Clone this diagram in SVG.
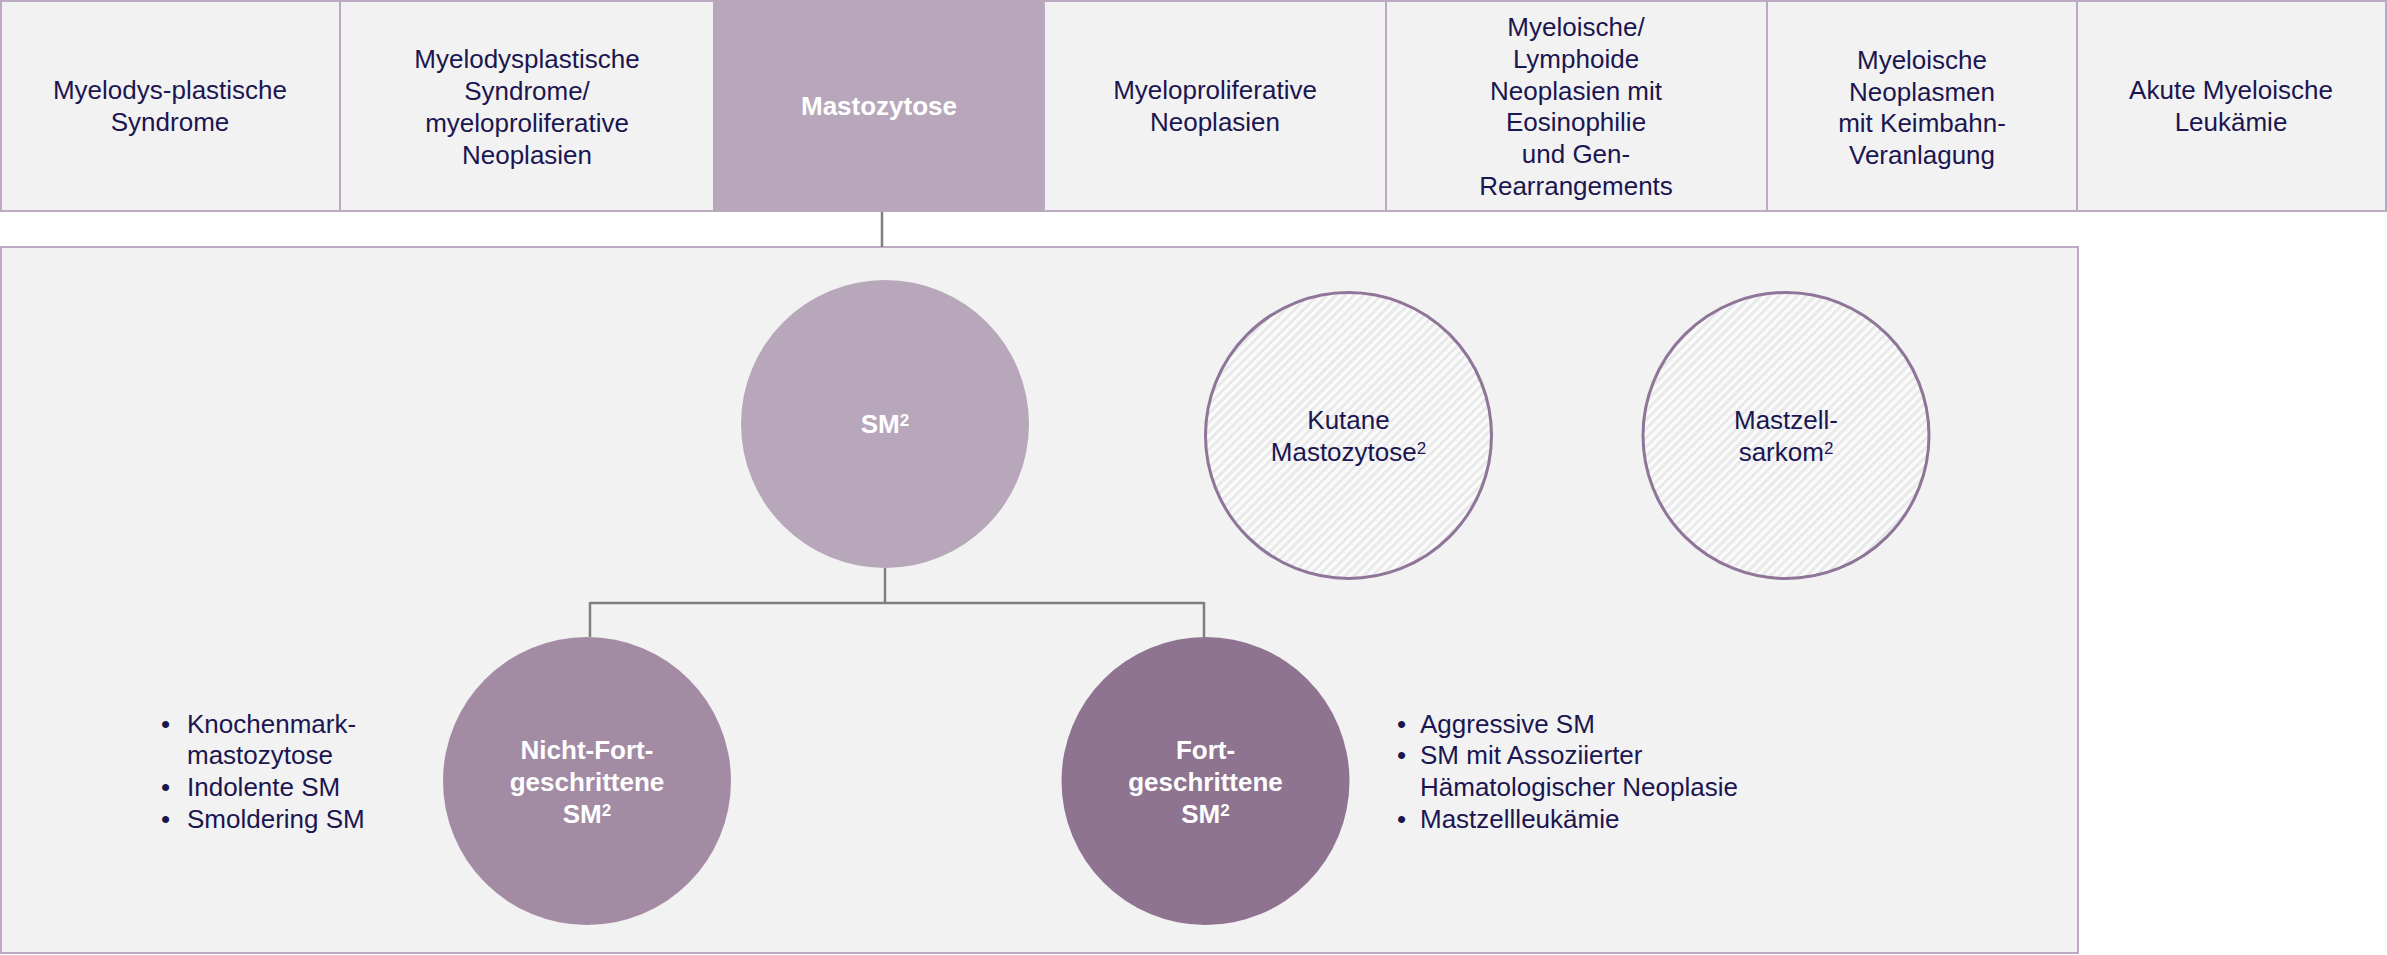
<svg xmlns="http://www.w3.org/2000/svg" width="2387" height="955" viewBox="0 0 2387 955">
<defs>
<style>
.box{fill:#f2f2f2;stroke:#bda9c1;stroke-width:2}
.hl{fill:#b8a7bb;stroke:#b8a7bb;stroke-width:2}
.t{font-family:"Liberation Sans",Arial,sans-serif;font-size:26px;fill:#1b1650;text-anchor:middle}
.l{font-family:"Liberation Sans",Arial,sans-serif;font-size:26px;fill:#1b1650;text-anchor:start}
.w{fill:#ffffff;font-weight:bold}
.sup{font-size:17px}
.conn{stroke:#7f7f7f;stroke-width:2.5;fill:none}
.hatchc{fill:url(#hatch);stroke:#8f7598;stroke-width:3}
</style>
<pattern id="hatch" width="6.4" height="6.4" patternUnits="userSpaceOnUse" patternTransform="rotate(45)">
<rect width="6.4" height="6.4" fill="#fbfbfb"/>
<rect width="3" height="6.4" fill="#e9e9e9"/>
</pattern>
</defs>
<rect width="2387" height="955" fill="#ffffff"/>

<g id="panel">
<rect class="box" x="1" y="247" width="2077" height="706"/>
</g>

<g id="connectors">
<path class="conn" d="M882,211 V247"/>
<path class="conn" d="M885,568 V603"/>
<path class="conn" d="M590,603 H1204"/>
<path class="conn" d="M590,602 V637"/>
<path class="conn" d="M1204,602 V637"/>
</g>

<g id="top-mds">
<rect class="box" x="1" y="1" width="339" height="210"/>
<text class="t" x="170" y="99">Myelodys-plastische</text>
<text class="t" x="170" y="131">Syndrome</text>
</g>
<g id="top-mds-mpn">
<rect class="box" x="340" y="1" width="374" height="210"/>
<text class="t" x="527" y="68">Myelodysplastische</text>
<text class="t" x="527" y="100">Syndrome/</text>
<text class="t" x="527" y="132">myeloproliferative</text>
<text class="t" x="527" y="164">Neoplasien</text>
</g>
<g id="top-mastozytose">
<rect class="hl" x="714" y="1" width="330" height="210"/>
<text class="t w" x="879" y="115">Mastozytose</text>
</g>
<g id="top-mpn">
<rect class="box" x="1044" y="1" width="342" height="210"/>
<text class="t" x="1215" y="99">Myeloproliferative</text>
<text class="t" x="1215" y="131">Neoplasien</text>
</g>
<g id="top-mln">
<rect class="box" x="1386" y="1" width="381" height="210"/>
<text class="t" x="1576" y="36">Myeloische/</text>
<text class="t" x="1576" y="68">Lymphoide</text>
<text class="t" x="1576" y="100">Neoplasien mit</text>
<text class="t" x="1576" y="131">Eosinophilie</text>
<text class="t" x="1576" y="163">und Gen-</text>
<text class="t" x="1576" y="195">Rearrangements</text>
</g>
<g id="top-keimbahn">
<rect class="box" x="1767" y="1" width="310" height="210"/>
<text class="t" x="1922" y="69">Myeloische</text>
<text class="t" x="1922" y="101">Neoplasmen</text>
<text class="t" x="1922" y="132">mit Keimbahn-</text>
<text class="t" x="1922" y="164">Veranlagung</text>
</g>
<g id="top-aml">
<rect class="box" x="2077" y="1" width="309" height="210"/>
<text class="t" x="2231" y="99">Akute Myeloische</text>
<text class="t" x="2231" y="131">Leukämie</text>
</g>

<g id="sm">
<circle cx="885" cy="424" r="144" fill="#b8a7bb"/>
<text class="t w" x="885" y="433">SM<tspan class="sup" dy="-7">2</tspan></text>
</g>
<g id="kutane">
<circle class="hatchc" cx="1348.5" cy="435.5" r="143"/>
<text class="t" x="1348.5" y="429">Kutane</text>
<text class="t" x="1348.5" y="461">Mastozytose<tspan class="sup" dy="-7">2</tspan></text>
</g>
<g id="sarkom">
<circle class="hatchc" cx="1786" cy="435.5" r="143"/>
<text class="t" x="1786" y="429">Mastzell-</text>
<text class="t" x="1786" y="461">sarkom<tspan class="sup" dy="-7">2</tspan></text>
</g>
<g id="nicht-fort">
<circle cx="587" cy="781" r="144" fill="#a38ba4"/>
<text class="t w" x="587" y="759">Nicht-Fort-</text>
<text class="t w" x="587" y="791">geschrittene</text>
<text class="t w" x="587" y="823">SM<tspan class="sup" dy="-7">2</tspan></text>
</g>
<g id="fort">
<circle cx="1205.5" cy="781" r="144" fill="#8f7491"/>
<text class="t w" x="1205.5" y="759">Fort-</text>
<text class="t w" x="1205.5" y="791">geschrittene</text>
<text class="t w" x="1205.5" y="823">SM<tspan class="sup" dy="-7">2</tspan></text>
</g>

<g id="list-left">
<text class="l" x="161" y="733">•</text>
<text class="l" x="187" y="733">Knochenmark-</text>
<text class="l" x="187" y="764">mastozytose</text>
<text class="l" x="161" y="796">•</text>
<text class="l" x="187" y="796">Indolente SM</text>
<text class="l" x="161" y="828">•</text>
<text class="l" x="187" y="828">Smoldering SM</text>
</g>
<g id="list-right">
<text class="l" x="1397" y="733">•</text>
<text class="l" x="1420" y="733">Aggressive SM</text>
<text class="l" x="1397" y="764">•</text>
<text class="l" x="1420" y="764">SM mit Assoziierter</text>
<text class="l" x="1420" y="796">Hämatologischer Neoplasie</text>
<text class="l" x="1397" y="828">•</text>
<text class="l" x="1420" y="828">Mastzellleukämie</text>
</g>
</svg>
